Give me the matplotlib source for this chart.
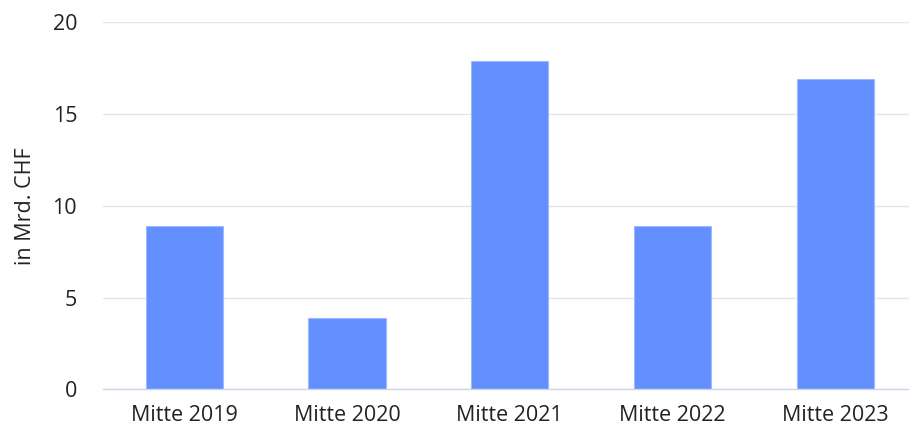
import matplotlib
matplotlib.use("Agg")
import matplotlib.pyplot as plt
import numpy as np

categories = ["Mitte 2019", "Mitte 2020", "Mitte 2021", "Mitte 2022", "Mitte 2023"]
values = [8.9, 3.9, 17.9, 8.9, 16.9]
yticks = [0, 5, 10, 15, 20]
ylabel = "in Mrd. CHF"

plt.rcParams['font.family'] = ['Open Sans', 'DejaVu Sans']

W, H = 909, 428
fig = plt.figure(figsize=(W / 100, H / 100), dpi=100)
left, right = 102.8, 916.8
top, bottom = 22.3, 389.3
ax = fig.add_axes([left / W, 1 - bottom / H, (right - left) / W, (bottom - top) / H])

x = np.arange(len(categories))
ax.bar(x, values, width=0.475, color="#648fff", edgecolor="#9db8ff", linewidth=0.8, zorder=3)

ax.set_xlim(-0.5, len(categories) - 0.5)
ax.set_ylim(0, 20)
ax.set_yticks(yticks)
ax.set_xticks(x)
ax.set_xticklabels(categories)
ax.grid(axis="y", color="#e6e6e6", linewidth=1, zorder=0)
ax.set_axisbelow(True)
for s in ["top", "right", "left"]:
    ax.spines[s].set_visible(False)
ax.spines["bottom"].set_color("#ccd6eb")
ax.spines["bottom"].set_linewidth(1)
ax.spines["bottom"].set_zorder(4)
ax.tick_params(axis="both", length=0, labelsize=15.5, colors="#222222")
ax.tick_params(axis="x", pad=11)
ax.tick_params(axis="y", pad=18.5)
for lbl in ax.get_yticklabels():
    lbl.set_horizontalalignment("right")
ax.set_ylabel(ylabel, fontsize=15.5, color="#222222", labelpad=12)

fig.savefig("out.png", dpi=100)
